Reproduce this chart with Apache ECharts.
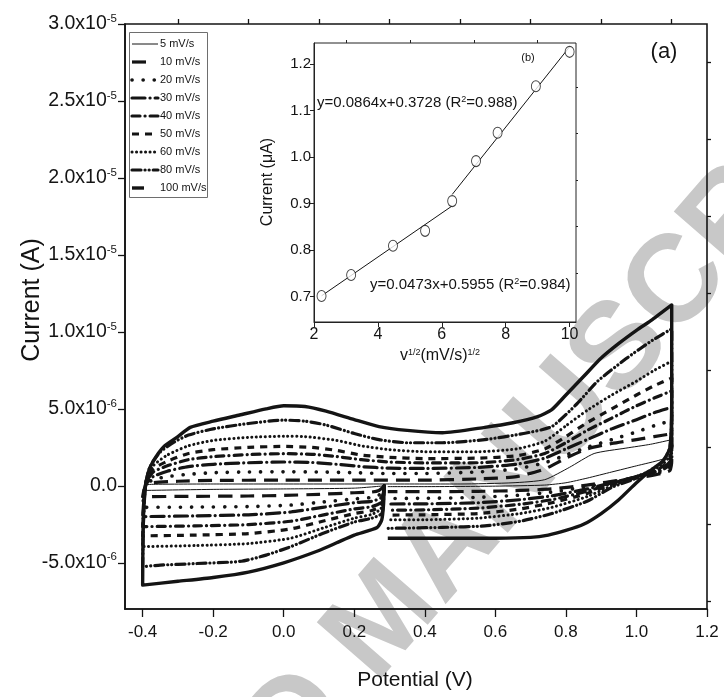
<!DOCTYPE html>
<html>
<head>
<meta charset="utf-8">
<script src="https://cdn.jsdelivr.net/npm/echarts@6/dist/echarts.min.js"></script>
<style>
  html, body { margin: 0; padding: 0; background: #fff; }
  #chart { width: 724px; height: 697px; }
</style>
</head>
<body>
<div id="chart"></div>
<script>
// Cyclic voltammograms at several scan rates: potential (V) vs current (µA).
// Each path starts at the rest potential, sweeps cathodic to -0.4 V,
// anodic to 1.1 V and back toward the start.
const scanRates = ['5 mV/s', '10 mV/s', '20 mV/s', '30 mV/s', '40 mV/s', '50 mV/s', '60 mV/s', '80 mV/s', '100 mV/s'];

const cv5 = [[0.285,0],[0.2,-0.15],[0.0,-0.2],[-0.2,-0.23],[-0.4,-0.3],
  [-0.39,0.05],[-0.37,0.1],[-0.2,0.12],[0.0,0.12],[0.3,0.12],[0.5,0.12],[0.65,0.2],[0.74,0.4],[0.81,1.2],[0.88,2.1],[0.97,2.45],[1.04,2.7],[1.1,3.0],
  [1.095,2.0],[1.07,1.7],[1.0,1.3],[0.93,0.9],[0.86,0.5],[0.8,0.2],[0.74,0.05],[0.6,-0.02],[0.4,-0.05],[0.295,-0.05]];
const cv10 = [[0.285,0],[0.27,-0.3],[0.25,-0.4],[0.2,-0.45],[0.1,-0.55],[0.0,-0.62],[-0.1,-0.66],[-0.25,-0.68],[-0.4,-0.7],
  [-0.396,-0.25],[-0.39,0.05],[-0.37,0.2],[-0.3,0.3],[-0.2,0.35],[0.0,0.37],[0.2,0.37],[0.4,0.37],[0.55,0.45],[0.66,0.6],[0.74,1.1],[0.8,1.8],[0.86,2.4],[0.93,2.75],[1.0,3.0],[1.05,3.2],[1.1,3.38],
  [1.1,1.6],[1.095,1.0],[1.07,0.8],[1.0,0.5],[0.93,0.3],[0.86,0.05],[0.76,-0.2],[0.67,-0.3],[0.55,-0.36],[0.4,-0.38],[0.295,-0.38]];
const cv20 = [[0.285,0],[0.282,-0.4],[0.27,-0.6],[0.25,-0.75],[0.2,-0.85],[0.11,-1.05],[0.02,-1.25],[-0.1,-1.35],[-0.25,-1.38],[-0.4,-1.4],
  [-0.396,-0.5],[-0.39,0.1],[-0.37,0.4],[-0.33,0.6],[-0.27,0.75],[-0.2,0.85],[-0.1,0.9],[0.0,0.91],[0.1,0.9],[0.2,0.85],[0.3,0.8],[0.4,0.8],[0.55,0.9],[0.66,1.1],[0.74,1.5],[0.8,2.0],[0.86,2.5],[0.93,3.0],[1.0,3.5],[1.05,3.9],[1.1,4.24],
  [1.1,2.0],[1.095,1.2],[1.07,0.9],[1.0,0.55],[0.93,0.25],[0.86,-0.05],[0.76,-0.4],[0.67,-0.6],[0.55,-0.75],[0.4,-0.81],[0.295,-0.82]];
const cv30 = [[0.285,0],[0.282,-0.5],[0.275,-0.8],[0.25,-1.0],[0.2,-1.1],[0.11,-1.4],[0.02,-1.7],[-0.1,-1.88],[-0.25,-1.95],[-0.4,-2.0],
  [-0.396,-0.8],[-0.39,0.1],[-0.37,0.6],[-0.33,0.95],[-0.27,1.25],[-0.2,1.4],[-0.1,1.5],[0.0,1.55],[0.08,1.52],[0.15,1.4],[0.22,1.25],[0.3,1.15],[0.4,1.13],[0.55,1.2],[0.66,1.4],[0.74,1.8],[0.8,2.4],[0.86,3.0],[0.93,3.7],[1.0,4.3],[1.05,4.75],[1.1,5.1],
  [1.1,2.5],[1.095,1.4],[1.07,1.0],[1.0,0.6],[0.93,0.2],[0.86,-0.2],[0.76,-0.65],[0.67,-0.9],[0.55,-1.1],[0.4,-1.17],[0.295,-1.18]];
const cv40 = [[0.285,0],[0.282,-0.7],[0.275,-1.1],[0.25,-1.35],[0.2,-1.5],[0.11,-1.9],[0.02,-2.3],[-0.1,-2.52],[-0.25,-2.6],[-0.4,-2.65],
  [-0.396,-1.0],[-0.39,0.2],[-0.37,0.9],[-0.33,1.3],[-0.27,1.7],[-0.2,1.9],[-0.1,2.03],[0.0,2.09],[0.08,2.05],[0.15,1.9],[0.22,1.7],[0.3,1.55],[0.4,1.49],[0.55,1.5],[0.66,1.7],[0.74,2.1],[0.8,2.8],[0.86,3.6],[0.93,4.4],[1.0,5.2],[1.05,5.7],[1.1,6.17],
  [1.1,3.0],[1.095,1.6],[1.07,1.1],[1.0,0.6],[0.93,0.15],[0.86,-0.35],[0.76,-0.9],[0.67,-1.2],[0.55,-1.45],[0.4,-1.56],[0.295,-1.58]];
const cv50 = [[0.285,0],[0.282,-0.8],[0.275,-1.3],[0.25,-1.6],[0.2,-1.8],[0.11,-2.3],[0.02,-2.8],[-0.1,-3.1],[-0.25,-3.2],[-0.4,-3.25],
  [-0.396,-1.2],[-0.39,0.3],[-0.37,1.1],[-0.33,1.6],[-0.27,2.1],[-0.2,2.35],[-0.1,2.5],[0.0,2.56],[0.08,2.5],[0.15,2.3],[0.22,2.0],[0.3,1.85],[0.4,1.77],[0.55,1.8],[0.66,1.95],[0.74,2.4],[0.8,3.2],[0.86,4.1],[0.93,5.0],[1.0,5.9],[1.05,6.5],[1.1,7.0],
  [1.1,3.5],[1.095,1.8],[1.07,1.2],[1.0,0.6],[0.93,0.1],[0.86,-0.5],[0.76,-1.1],[0.67,-1.5],[0.55,-1.8],[0.4,-1.88],[0.295,-1.9]];
const cv60 = [[0.285,0],[0.282,-0.9],[0.275,-1.5],[0.25,-1.85],[0.2,-2.1],[0.11,-2.75],[0.02,-3.4],[-0.1,-3.75],[-0.25,-3.88],[-0.4,-3.95],
  [-0.397,-1.5],[-0.39,0.3],[-0.37,1.3],[-0.33,2.0],[-0.27,2.6],[-0.2,2.95],[-0.1,3.15],[0.0,3.22],[0.06,3.2],[0.15,2.95],[0.22,2.6],[0.3,2.35],[0.4,2.22],[0.55,2.22],[0.66,2.4],[0.74,2.9],[0.8,3.9],[0.86,4.9],[0.93,5.9],[1.0,6.8],[1.05,7.5],[1.1,8.1],
  [1.1,4.0],[1.095,2.0],[1.07,1.3],[1.0,0.6],[0.93,0.0],[0.86,-0.7],[0.76,-1.4],[0.67,-1.8],[0.55,-2.1],[0.4,-2.2],[0.295,-2.2]];
const cv80 = [[0.285,0],[0.283,-1.0],[0.278,-1.8],[0.25,-2.1],[0.2,-2.35],[0.11,-3.1],[0.02,-3.95],[-0.05,-4.5],[-0.12,-4.9],[-0.25,-5.05],[-0.35,-5.15],[-0.4,-5.25],
  [-0.398,-2.5],[-0.392,0],[-0.38,1.2],[-0.35,2.2],[-0.31,2.85],[-0.27,3.3],[-0.2,3.7],[-0.1,4.05],[0.0,4.27],[0.06,4.2],[0.12,3.95],[0.2,3.4],[0.27,3.0],[0.35,2.8],[0.45,2.8],[0.57,3.0],[0.68,3.4],[0.76,3.85],[0.83,5.3],[0.89,6.8],[0.97,8.25],[1.045,9.45],[1.1,10.2],
  [1.1,5.0],[1.095,2.5],[1.075,1.6],[1.045,1.1],[1.0,0.5],[0.93,-0.1],[0.86,-1.0],[0.76,-1.8],[0.67,-2.3],[0.57,-2.6],[0.45,-2.7],[0.295,-2.76]];
const cv100 = [[0.285,0],[0.283,-1.2],[0.278,-2.2],[0.265,-2.7],[0.2,-3.2],[0.15,-3.7],[0.1,-4.2],[0.0,-5.0],[-0.1,-5.6],[-0.2,-5.95],[-0.3,-6.2],[-0.4,-6.45],
  [-0.399,-3.5],[-0.395,-0.5],[-0.385,0.8],[-0.37,1.6],[-0.34,2.55],[-0.3,3.2],[-0.265,3.8],[-0.2,4.2],[-0.125,4.6],[-0.05,5.0],[0.0,5.2],[0.06,5.15],[0.12,4.85],[0.2,4.3],[0.27,3.85],[0.35,3.6],[0.45,3.45],[0.57,3.8],[0.65,4.1],[0.72,4.5],[0.76,4.95],[0.8,5.9],[0.85,7.1],[0.9,8.3],[0.95,9.25],[1.0,10.1],[1.045,10.8],[1.1,11.75],
  [1.1,6.0],[1.095,2.5],[1.075,1.6],[1.04,1.0],[1.0,0.2],[0.95,-0.9],[0.9,-1.8],[0.85,-2.5],[0.8,-2.9],[0.75,-3.2],[0.7,-3.35],[0.6,-3.4],[0.5,-3.4],[0.4,-3.4],[0.295,-3.4]];

const cvCurves = [cv5, cv10, cv20, cv30, cv40, cv50, cv60, cv80, cv100];

// Axis ticks
const potentialMajor = [-0.4, -0.2, 0.0, 0.2, 0.4, 0.6, 0.8, 1.0, 1.2];
const potentialMinor = [-0.3, -0.1, 0.1, 0.3, 0.5, 0.7, 0.9, 1.1];
const currentMajor = [-5, 0, 5, 10, 15, 20, 25, 30];          // µA
const currentMinor = [-7.5, -2.5, 2.5, 7.5, 12.5, 17.5, 22.5, 27.5];

// Inset: anodic peak current vs square root of scan rate
const sqrtRate = [2.236, 3.162, 4.472, 5.477, 6.325, 7.071, 7.746, 8.944, 10.0];
const peakCurrent = [0.701, 0.746, 0.809, 0.841, 0.905, 0.991, 1.052, 1.152, 1.226];
const fitLow = { slope: 0.0473, intercept: 0.5955, from: 2.236, to: 6.325 };
const fitHigh = { slope: 0.0864, intercept: 0.3728, from: 6.325, to: 10.0 };
const insetXMajor = [2, 4, 6, 8, 10];
const insetXMinor = [3, 5, 7, 9];
const insetYMajor = [0.7, 0.8, 0.9, 1.0, 1.1, 1.2];
const insetYMinor = [0.75, 0.85, 0.95, 1.05, 1.15];

const FONT = 'Arial, "Liberation Sans", Helvetica, sans-serif';
const INK = '#141414';

// Line styles per scan rate (dash arrays in px)
const styles = [
  { width: 1, type: 'solid' },
  { width: 3.2, type: [14, 8] },
  { width: 3.6, type: [0.1, 11], cap: 'round' },
  { width: 3.2, type: [13, 5, 0.1, 5], cap: 'round' },
  { width: 3.2, type: [8, 5, 0.1, 5], cap: 'round' },
  { width: 3.2, type: [7, 6] },
  { width: 3.0, type: [0.1, 4.4], cap: 'round' },
  { width: 3.2, type: [9, 4, 0.1, 4, 0.1, 4], cap: 'round' },
  { width: 3.4, type: 'solid' }
];
// Legend sample lengths
const sampleLen = [26, 14, 26, 26, 26, 26, 26, 26, 12];

function sciLabel(v) {
  if (v === 0) return '{m|0.0}';
  const exp = Math.floor(Math.log10(Math.abs(v)) + 1e-9);
  const mant = (v / Math.pow(10, exp)).toFixed(1);
  return '{m|' + mant + 'x10}{e|' + (exp - 6) + '}';
}

function fitLine(f) {
  return [[f.from, f.slope * f.from + f.intercept], [f.to, f.slope * f.to + f.intercept]];
}

const cvSeries = cvCurves.map((pts, i) => ({
  name: scanRates[i],
  type: 'line',
  xAxisIndex: 0,
  yAxisIndex: 0,
  data: pts,
  symbol: 'none',
  smooth: 0.2,
  z: 3 + i,
  lineStyle: Object.assign({ color: INK, join: 'round' }, styles[i]),
  itemStyle: { color: INK },
  animation: false
}));

// Legend box drawn as graphics: frame, line samples and labels
const legendX = 129, legendY = 32, legendW = 78, legendH = 165;
const legendGraphics = [{
  type: 'rect', z: 40,
  shape: { x: legendX + 0.5, y: legendY + 0.5, width: legendW, height: legendH },
  style: { fill: '#fff', stroke: '#6e6e6e', lineWidth: 1 }
}];
scanRates.forEach((name, i) => {
  const y = legendY + 12 + i * 18;
  const st = styles[i];
  legendGraphics.push({
    type: 'line', z: 41,
    shape: { x1: 132, y1: y, x2: 132 + sampleLen[i], y2: y },
    style: {
      stroke: INK, lineWidth: st.width,
      lineDash: Array.isArray(st.type) ? st.type : null,
      lineCap: st.cap || 'butt'
    }
  });
  legendGraphics.push({
    type: 'text', z: 41, x: 160, y: y,
    style: { text: name, font: '11px ' + FONT, fill: INK, align: 'left', verticalAlign: 'middle' }
  });
});

// Background text mark: two runs on one diagonal, anchored at their mid-line
const wmAngle = 49 * Math.PI / 180;
const wmAnchor = [350, 662];
const wmSize = 124;
const wmFont = 'bold ' + wmSize + 'px ' + FONT;
const wmColor = '#c8c8c8';
const wmGap = 0.28 * wmSize;

const chart = echarts.init(document.getElementById('chart'), null, { renderer: 'canvas' });

const tickLine = { color: INK, width: 1.3 };

const option = {
  backgroundColor: '#fff',
  animation: false,
  textStyle: { fontFamily: FONT },
  grid: [
    { left: 125, right: 17, top: 24, bottom: 88, show: true, borderColor: INK, borderWidth: 1.6, containLabel: false },
    { left: 314, right: 148, top: 43, bottom: 375, show: true, borderColor: '#222', borderWidth: 1, backgroundColor: '#fff', containLabel: false }
  ],
  xAxis: [
    {
      gridIndex: 0, type: 'value', min: -0.45, max: 1.2,
      axisLine: { show: true, onZero: false, lineStyle: { color: INK, width: 1.6 } },
      axisTick: { show: true, customValues: potentialMajor, length: 8, lineStyle: tickLine },
      axisLabel: { customValues: potentialMajor, fontSize: 17, color: INK, margin: 15, formatter: v => v.toFixed(1) },
      splitLine: { show: false }
    },
    {
      gridIndex: 0, type: 'value', min: -0.45, max: 1.2,
      axisLine: { show: false, onZero: false },
      axisTick: { show: true, customValues: potentialMinor, length: 5, lineStyle: tickLine },
      axisLabel: { show: false },
      splitLine: { show: false }
    },
    {
      gridIndex: 1, type: 'value', min: 2, max: 10.2,
      axisLine: { show: true, onZero: false, lineStyle: { color: '#222', width: 1 } },
      axisTick: { show: true, customValues: insetXMajor, length: 5, lineStyle: { color: '#222', width: 1 } },
      axisLabel: { customValues: insetXMajor, fontSize: 16, color: INK, margin: 5 },
      splitLine: { show: false }
    },
    {
      gridIndex: 1, type: 'value', min: 2, max: 10.2,
      axisLine: { show: false, onZero: false },
      axisTick: { show: true, customValues: insetXMinor, length: 3, lineStyle: { color: '#222', width: 1 } },
      axisLabel: { show: false },
      splitLine: { show: false }
    }
  ],
  yAxis: [
    {
      gridIndex: 0, type: 'value', min: -8, max: 30,
      axisLine: { show: true, onZero: false, lineStyle: { color: INK, width: 1.6 } },
      axisTick: { show: true, customValues: currentMajor, length: 7, lineStyle: tickLine },
      axisLabel: {
        customValues: currentMajor, margin: 8, formatter: sciLabel,
        rich: {
          m: { fontSize: 19.5, color: INK, fontFamily: FONT, lineHeight: 23 },
          e: { fontSize: 11.5, color: INK, fontFamily: FONT, verticalAlign: 'top', lineHeight: 13 }
        }
      },
      splitLine: { show: false }
    },
    {
      gridIndex: 0, type: 'value', min: -8, max: 30,
      axisLine: { show: false, onZero: false },
      axisTick: { show: true, customValues: currentMinor, length: 4, lineStyle: tickLine },
      axisLabel: { show: false },
      splitLine: { show: false }
    },
    {
      gridIndex: 1, type: 'value', min: 0.645, max: 1.245,
      axisLine: { show: true, onZero: false, lineStyle: { color: '#222', width: 1 } },
      axisTick: { show: true, customValues: insetYMajor, length: 4, lineStyle: { color: '#222', width: 1 } },
      axisLabel: { customValues: insetYMajor, fontSize: 15, color: INK, margin: 3, formatter: v => v.toFixed(1) },
      splitLine: { show: false }
    },
    {
      gridIndex: 1, type: 'value', min: 0.645, max: 1.245,
      axisLine: { show: false, onZero: false },
      axisTick: { show: true, customValues: insetYMinor, length: 2, lineStyle: { color: '#222', width: 1 } },
      axisLabel: { show: false },
      splitLine: { show: false }
    }
  ],
  series: cvSeries.concat([
    {
      type: 'line', xAxisIndex: 2, yAxisIndex: 2, data: fitLine(fitLow),
      symbol: 'none', lineStyle: { color: INK, width: 1 }, z: 20, silent: true
    },
    {
      type: 'line', xAxisIndex: 2, yAxisIndex: 2, data: fitLine(fitHigh),
      symbol: 'none', lineStyle: { color: INK, width: 1 }, z: 20, silent: true
    },
    {
      type: 'scatter', xAxisIndex: 2, yAxisIndex: 2,
      data: sqrtRate.map((x, i) => [x, peakCurrent[i]]),
      symbol: 'circle', symbolSize: [9, 11],
      itemStyle: { color: '#fff', borderColor: INK, borderWidth: 1 },
      z: 21
    }
  ]),
  graphic: [
    {
      type: 'text', z: -10, silent: true, x: wmAnchor[0], y: wmAnchor[1], rotation: wmAngle,
      style: { text: 'MANUSCRIPT', font: wmFont, fill: wmColor, align: 'left', verticalAlign: 'middle' }
    },
    {
      type: 'text', z: -10, silent: true,
      x: wmAnchor[0] - wmGap * Math.cos(wmAngle), y: wmAnchor[1] + wmGap * Math.sin(wmAngle), rotation: wmAngle,
      style: { text: 'ACCEPTED', font: wmFont, fill: wmColor, align: 'right', verticalAlign: 'middle' }
    },
    {
      type: 'text', x: 32, y: 300, rotation: Math.PI / 2,
      style: { text: 'Current (A)', font: '25px ' + FONT, fill: INK, align: 'center', verticalAlign: 'middle' }
    },
    {
      type: 'text', x: 415, y: 680,
      style: { text: 'Potential (V)', font: '21px ' + FONT, fill: INK, align: 'center', verticalAlign: 'middle' }
    },
    {
      type: 'text', x: 664, y: 52,
      style: { text: '(a)', font: '22px ' + FONT, fill: INK, align: 'center', verticalAlign: 'middle' }
    },
    {
      type: 'text', x: 528, y: 58, z: 30,
      style: { text: '(b)', font: '11px ' + FONT, fill: INK, align: 'center', verticalAlign: 'middle' }
    },
    {
      type: 'text', x: 317, y: 103, z: 30,
      style: {
        text: 'y=0.0864x+0.3728 (R{s|2}=0.988)', font: '15px ' + FONT, fill: INK, align: 'left', verticalAlign: 'middle',
        rich: { s: { fontSize: 9, fill: INK, verticalAlign: 'top', lineHeight: 8 } }
      }
    },
    {
      type: 'text', x: 370, y: 285, z: 30,
      style: {
        text: 'y=0.0473x+0.5955 (R{s|2}=0.984)', font: '15px ' + FONT, fill: INK, align: 'left', verticalAlign: 'middle',
        rich: { s: { fontSize: 9, fill: INK, verticalAlign: 'top', lineHeight: 8 } }
      }
    },
    {
      type: 'text', x: 268, y: 182, rotation: Math.PI / 2, z: 30,
      style: { text: 'Current (\u03bcA)', font: '16px ' + FONT, fill: INK, align: 'center', verticalAlign: 'middle' }
    },
    {
      type: 'text', x: 440, y: 356, z: 30,
      style: {
        text: 'v{s|1/2}(mV/s){s|1/2}', font: '16px ' + FONT, fill: INK, align: 'center', verticalAlign: 'middle',
        rich: { s: { fontSize: 9, fill: INK, verticalAlign: 'top', lineHeight: 8 } }
      }
    }
  ].concat(legendGraphics)
};

chart.setOption(option);
</script>
</body>
</html>
